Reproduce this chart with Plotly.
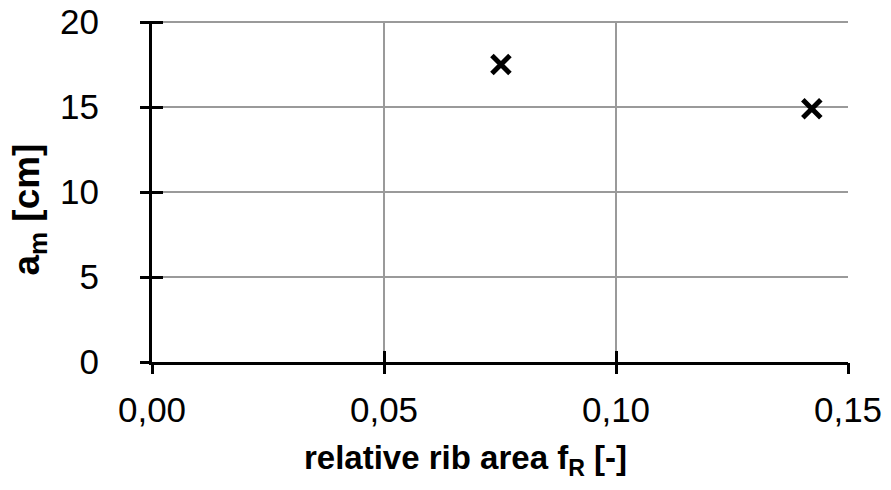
import plotly.graph_objects as go

x_vals = [0.0752, 0.1422]
y_vals = [17.5, 14.9]
x_ticks = [0.0, 0.05, 0.10, 0.15]
x_tick_labels = ["0,00", "0,05", "0,10", "0,15"]
y_ticks = [0, 5, 10, 15, 20]
y_tick_labels = ["0", "5", "10", "15", "20"]
x_title = "<b>relative rib area f<sub>R</sub> [-]</b>"
y_title = "<b>a<sub>m</sub> [cm]</b>"

X_RANGE = [0, 0.15]
Y_RANGE = [0, 20.06]

FONT = "Liberation Sans, Arial, sans-serif"

fig = go.Figure()
fig.add_trace(go.Scatter(
    x=x_vals, y=y_vals, mode="markers",
    marker=dict(symbol="x-thin", size=18, color="black",
                line=dict(width=5, color="black")),
    showlegend=False, cliponaxis=False,
))
for ax in ("2", "3"):
    fig.add_trace(go.Scatter(x=[0], y=[0], xaxis="x" + ax, yaxis="y" + ax, mode="markers",
                             marker=dict(opacity=0), showlegend=False, hoverinfo="skip"))

tick_style = dict(ticklen=11, tickwidth=3, tickcolor="black")

def overlay_x(anchor, ticks):
    return dict(range=X_RANGE, tickvals=x_ticks, overlaying="x", anchor=anchor,
                side="bottom", showticklabels=False, showgrid=False, showline=False,
                zeroline=False, ticks=ticks, automargin=False, **tick_style)

def overlay_y(anchor, ticks):
    return dict(range=Y_RANGE, tickvals=y_ticks, overlaying="y", anchor=anchor,
                side="left", showticklabels=False, showgrid=False, showline=False,
                zeroline=False, ticks=ticks, automargin=False, **tick_style)

fig.update_layout(
    width=891, height=490,
    margin=dict(l=144, r=51, t=13, b=136),
    paper_bgcolor="white", plot_bgcolor="white",
    font=dict(family=FONT, size=35, color="black"),
    xaxis=dict(
        range=X_RANGE, tickvals=x_ticks, ticktext=x_tick_labels,
        showgrid=True, gridcolor="#9a9a9a", gridwidth=1.5,
        showline=True, linecolor="black", linewidth=3,
        ticks="outside", ticklen=15, tickcolor="rgba(0,0,0,0)", automargin=False,
        zeroline=False, tickfont=dict(size=35), ticklabeloverflow="allow",
    ),
    yaxis=dict(
        range=Y_RANGE, tickvals=y_ticks, ticktext=y_tick_labels,
        showgrid=True, gridcolor="#9a9a9a", gridwidth=1.5,
        showline=True, linecolor="black", linewidth=3,
        ticks="outside", ticklen=43, tickcolor="rgba(0,0,0,0)", automargin=False,
        zeroline=False, tickfont=dict(size=35), ticklabeloverflow="allow",
    ),
    xaxis2=overlay_x("y2", "outside"),
    yaxis2=overlay_y("x2", "outside"),
    xaxis3=overlay_x("y3", "inside"),
    yaxis3=overlay_y("x3", "inside"),
    annotations=[
        dict(text=x_title, xref="paper", yref="paper", x=0.45, y=0,
             yshift=-75, xanchor="center", yanchor="top", showarrow=False,
             font=dict(size=33)),
        dict(text=y_title, xref="paper", yref="paper", x=0, y=0.447,
             xshift=-123, xanchor="center", yanchor="middle", showarrow=False,
             textangle=-90, font=dict(size=37)),
    ],
)

fig.write_html("out.html")
